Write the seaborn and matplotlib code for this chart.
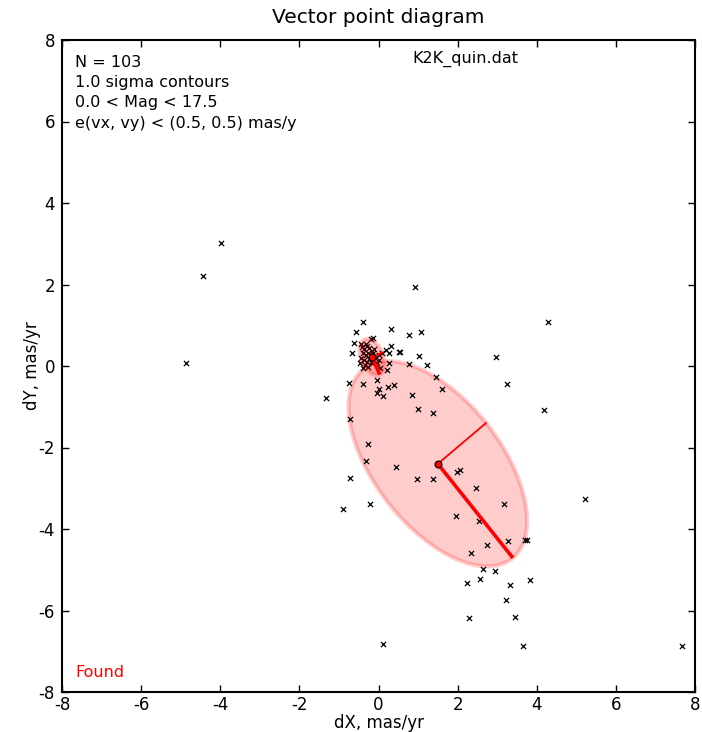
import numpy as np
import pandas as pd
import matplotlib
matplotlib.use("Agg")
import matplotlib.pyplot as plt
from matplotlib.patches import Ellipse
import seaborn as sns

# Proper-motion offsets of the selected stars (mas/yr)
dx = [-3.98, -4.44, -4.87, 0.92, 4.28, 2.97, 3.25, 4.18, 5.22, 7.67,
      0.11, 3.65, -1.33, 1.61, 0.77, 1.23, 1.45, -0.75, -0.39, -0.04,
      0.01, -0.04, 0.11, 0.24, 0.39, 0.85, 1.00, 1.38, -0.72, -0.27,
      -0.32, 0.44, 0.97, 1.38, -0.72, -0.90, -0.21, 1.98, 2.06, 2.46,
      3.17, 1.96, 2.54, 3.27, 3.70, 3.75, 2.74, 2.34, 2.64, 2.94,
      2.57, 2.24, 3.32, 3.83, 3.22, 2.29, 3.46, -0.39, -0.57, 0.32,
      0.77, 1.07, -0.19, -0.14, -0.62, -0.44, -0.32, -0.67, 0.32, 0.19,
      0.27, 0.52, 0.54, 1.02, 0.27, 0.21, 0.04, -0.42, -0.37, -0.30,
      -0.23, -0.17, -0.38, -0.32, -0.26, -0.20, -0.13, -0.44, -0.37, -0.30,
      -0.23, -0.16, -0.09, -0.34, -0.26, -0.17, -0.05, 0.02, -0.38, -0.47,
      -0.11, 0.00, 0.08]
dy = [3.02, 2.21, 0.07, 1.94, 1.08, 0.22, -0.44, -1.08, -3.26, -6.87,
      -6.82, -6.87, -0.79, -0.56, 0.05, 0.02, -0.27, -0.42, -0.44, -0.34,
      -0.56, -0.66, -0.74, -0.52, -0.47, -0.71, -1.06, -1.15, -1.30, -1.91,
      -2.33, -2.48, -2.77, -2.77, -2.75, -3.51, -3.39, -2.60, -2.55, -2.99,
      -3.39, -3.68, -3.80, -4.29, -4.27, -4.27, -4.39, -4.59, -4.98, -5.03,
      -5.23, -5.33, -5.37, -5.25, -5.74, -6.18, -6.16, 1.08, 0.83, 0.91,
      0.76, 0.83, 0.66, 0.69, 0.56, 0.54, 0.54, 0.32, 0.49, 0.39,
      0.32, 0.34, 0.34, 0.25, 0.07, -0.10, -0.05, 0.46, 0.41, 0.49,
      0.43, 0.38, 0.31, 0.27, 0.33, 0.25, 0.31, 0.19, 0.15, 0.11,
      0.16, 0.13, 0.19, 0.02, -0.02, 0.07, 0.07, 0.15, -0.06, 0.07,
      0.41, 0.27, 0.31]

# 1-sigma ellipses: centre x, centre y, semi-major, semi-minor, angle (deg)
field_ellipse = [1.50, -2.40, 2.99, 1.58, -50.6]
cluster_ellipse = [-0.16, 0.22, 0.47, 0.28, -66.0]

tick_values = [-8, -6, -4, -2, 0, 2, 4, 6, 8]
info_lines = ["N = 103", "1.0 sigma contours", "0.0 < Mag < 17.5",
              "e(vx, vy) < (0.5, 0.5) mas/y"]
file_label = "K2K_quin.dat"

sns.set_theme(style="white", rc={
    "xtick.direction": "in", "ytick.direction": "in",
    "xtick.top": True, "ytick.right": True,
    "xtick.bottom": True, "ytick.left": True,
    "xtick.major.size": 5, "ytick.major.size": 5,
    "xtick.major.width": 1.0, "ytick.major.width": 1.0,
    "axes.edgecolor": "black", "axes.linewidth": 1.5,
    "axes.unicode_minus": False,
    "text.color": "black", "axes.labelcolor": "black",
    "xtick.color": "black", "ytick.color": "black",
})
plt.rcParams["font.family"] = ["DejaVu Sans"]

df = pd.DataFrame({"dX": dx, "dY": dy})

fig = plt.figure(figsize=(7.02, 7.32), dpi=100)
ax = fig.add_axes([62 / 702, 40 / 732, 633 / 702, 652 / 732])

sns.scatterplot(data=df, x="dX", y="dY", marker="x", color="black",
                s=14, linewidth=0.9, ax=ax, zorder=3)


def draw_sigma(params, zorder):
    cx, cy, a, b, ang = params
    ax.add_patch(Ellipse((cx, cy), 2 * a, 2 * b, angle=ang,
                         facecolor="red", edgecolor="red", alpha=0.2,
                         lw=3, zorder=zorder))
    t = np.deg2rad(ang)
    ax.plot([cx, cx + a * np.cos(t)], [cy, cy + a * np.sin(t)],
            color="red", lw=2.6, zorder=5, solid_capstyle="butt")
    t2 = t + np.pi / 2
    ax.plot([cx, cx + b * np.cos(t2)], [cy, cy + b * np.sin(t2)],
            color="red", lw=1.3, zorder=5)
    ax.plot([cx], [cy], marker="o", markersize=5, color="red",
            markeredgecolor="black", markeredgewidth=0.8, zorder=6)


draw_sigma(field_ellipse, 2)
draw_sigma(cluster_ellipse, 4)

ax.set_xlim(-8, 8)
ax.set_ylim(-8, 8)
ax.set_xticks(tick_values)
ax.set_yticks(tick_values)
ax.set_xticklabels([str(v) for v in tick_values], fontsize=12)
ax.set_yticklabels([str(v) for v in tick_values], fontsize=12)
ax.tick_params(axis="x", pad=3)
ax.tick_params(axis="y", pad=5)
ax.set_xlabel("dX, mas/yr", fontsize=12, labelpad=0)
ax.set_ylabel("dY, mas/yr", fontsize=12, labelpad=-2)
ax.set_title("Vector point diagram", fontsize=14.5, pad=12)

for text, yy in zip(info_lines, [0.9586, 0.9279, 0.8965, 0.865]):
    ax.text(0.0205, yy, text, transform=ax.transAxes, fontsize=11.5,
            va="baseline", ha="left", color="black")
ax.text(0.553, 0.965, file_label, transform=ax.transAxes, fontsize=11.5,
        va="baseline", ha="left", color="black")
ax.text(0.0205, 0.023, "Found", transform=ax.transAxes, fontsize=11.5,
        va="baseline", ha="left", color="red")

for sp in ax.spines.values():
    sp.set_visible(True)
    sp.set_color("black")

fig.savefig("out.png", dpi=100)
